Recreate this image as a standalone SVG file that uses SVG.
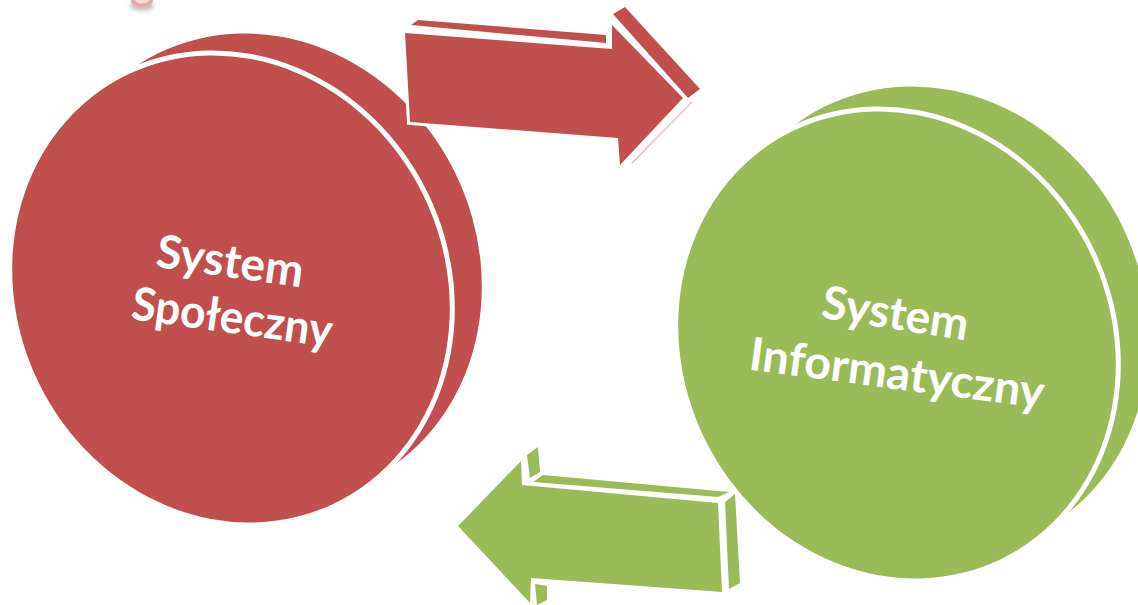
<svg xmlns="http://www.w3.org/2000/svg" width="1138" height="605" viewBox="0 0 1138 605">
  <defs>
    <filter id="blur" x="-50%" y="-50%" width="200%" height="200%">
      <feGaussianBlur stdDeviation="2"/>
    </filter>
  </defs>
  <style>
    .red { fill: #C0504D; }
    .green { fill: #9BBB59; }
    .gap { fill: #FFFFFF; }
    .arrow { stroke: #FFFFFF; stroke-width: 6; stroke-linejoin: miter; paint-order: stroke; }
    .label { font-family: Lato, "Open Sans", "Liberation Sans", sans-serif; font-weight: bold; font-size: 46px; fill: #FFFFFF; text-anchor: middle; }
  </style>
  <rect x="0" y="0" width="1138" height="605" fill="#FFFFFF"/>

  <g id="fragment-top">
    <ellipse cx="142" cy="6" rx="12" ry="5" fill="#777777" opacity="0.45" filter="url(#blur)"/>
    <ellipse cx="142" cy="1" rx="11" ry="6" fill="#E8A6A8"/>
    <ellipse cx="142" cy="0" rx="7" ry="3.5" fill="#F6DCDC"/>
  </g>

  <g id="node-spoleczny">
    <ellipse class="red" cx="263" cy="267" rx="214" ry="238" transform="rotate(-26 263 267)"/>
    <ellipse class="gap" cx="231" cy="289" rx="219" ry="243" transform="rotate(-26 231 289)"/>
    <ellipse class="red" cx="231" cy="289" rx="214" ry="238" transform="rotate(-26 231 289)"/>
    <text class="label" x="228" y="277" textLength="148" lengthAdjust="spacingAndGlyphs" transform="rotate(8 228 277)">System</text>
    <text class="label" x="230" y="333" textLength="202" lengthAdjust="spacingAndGlyphs" transform="rotate(8 230 333)">Społeczny</text>
  </g>

  <g id="node-informatyczny">
    <ellipse class="green" cx="930" cy="320" rx="214" ry="238" transform="rotate(-26 930 320)"/>
    <ellipse class="gap" cx="897" cy="345" rx="219" ry="243" transform="rotate(-26 897 345)"/>
    <ellipse class="green" cx="897" cy="345" rx="214" ry="238" transform="rotate(-26 897 345)"/>
    <text class="label" x="893" y="329" textLength="148" lengthAdjust="spacingAndGlyphs" transform="rotate(9 893 329)">System</text>
    <text class="label" x="895" y="389" textLength="297" lengthAdjust="spacingAndGlyphs" transform="rotate(7.5 895 389)">Informatyczny</text>
  </g>

  <g id="connectors">
    <g id="arrow-to-informatyczny">
      <polygon class="red" points="411,25 418,20 606,35 606,43"/>
      <polygon class="red" points="613,14 625,7 700,89 688,98"/>
      <line x1="692" y1="102" x2="632" y2="163" stroke="#EBB8B8" stroke-width="1.2"/>
      <polygon class="red arrow" points="405,33 612,49 612,25 683,98 620,165 618,138 410,122"/>
    </g>
    <g id="arrow-to-spoleczny">
      <polygon class="green" points="527,455 538,447 540,472 530,478"/>
      <polygon class="green" points="533,482 543,475 729,492 718,497"/>
      <polygon class="green" points="725,502 735,494 740,583 729,589"/>
      <polygon class="green" points="535,584 547,586 547,600 537,605"/>
      <polygon class="green arrow" points="458,526 521,461 522,485 718,503 722,592 531,578 530,603"/>
    </g>
  </g>
</svg>
